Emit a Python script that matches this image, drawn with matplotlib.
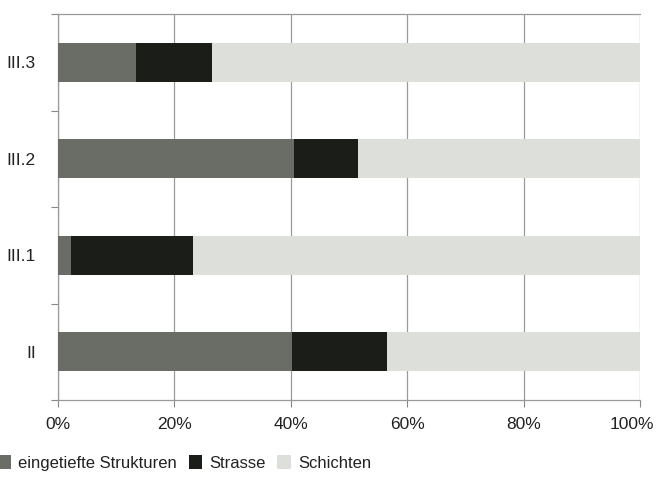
import matplotlib
matplotlib.use("Agg")
import matplotlib.pyplot as plt
from matplotlib.patches import Patch
from matplotlib import font_manager
import matplotlib.transforms as mtransforms

categories = ["II", "III.1", "III.2", "III.3"]
eingetiefte = [40.2, 2.2, 40.5, 13.4]
strasse = [16.3, 21.0, 11.0, 13.1]
schichten = [43.5, 76.8, 48.5, 73.5]
series_names = ["eingetiefte Strukturen", "Strasse", "Schichten"]
xtick_labels = ["0%", "20%", "40%", "60%", "80%", "100%"]

colors = ["#6a6d66", "#1b1d19", "#dde0da"]

names = {f.name for f in font_manager.fontManager.ttflist}
family = [f for f in ["Liberation Sans Narrow", "Liberation Sans", "DejaVu Sans"] if f in names]
plt.rcParams["font.family"] = family

fig = plt.figure(figsize=(6.56, 4.93), dpi=100)
ax = fig.add_axes([58 / 656, 1 - 400 / 493, 582 / 656, 386 / 493])

ypos = list(range(len(categories)))
left = [0.0] * len(categories)
for vals, col, name in zip([eingetiefte, strasse, schichten], colors, series_names):
    ax.barh(ypos, vals, left=left, height=0.4, color=col, label=name, zorder=3)
    left = [l + v for l, v in zip(left, vals)]

ax.set_xlim(0, 100)
ax.set_ylim(-0.5, 3.5)
ax.set_xticks([0, 20, 40, 60, 80, 100])
ax.set_xticklabels(xtick_labels)
ax.set_yticks(ypos)
ax.set_yticklabels(categories)
ax.set_yticks([-0.5, 0.5, 1.5, 2.5, 3.5], minor=True)
ax.tick_params(axis="y", which="major", length=0, pad=16, labelsize=12.5, colors="#222222")
ax.tick_params(axis="y", which="minor", length=5, color="#888888", width=0.8)
ax.tick_params(axis="x", which="major", length=5, color="#888888", width=0.8, pad=7,
               labelsize=12.5, labelcolor="#222222")

# keep the last tick label inside the figure
last = ax.get_xticklabels()[-1]
last.set_transform(last.get_transform() + mtransforms.ScaledTranslation(-8 / 100, 0, fig.dpi_scale_trans))

ax.grid(axis="x", color="#9a9a9a", linewidth=0.9, zorder=0)
for side in ["top", "bottom", "left"]:
    ax.spines[side].set_color("#9a9a9a")
    ax.spines[side].set_linewidth(0.9)
ax.spines["right"].set_visible(False)

handles = [Patch(facecolor=c, edgecolor="none") for c in colors]
fig.legend(handles, series_names, loc="lower left", bbox_to_anchor=(-0.027, 0.014),
           ncol=3, frameon=False, fontsize=12, handlelength=0.8, handleheight=0.9,
           handletextpad=0.45, columnspacing=0.7, labelcolor="#222222")

fig.savefig("out.png", dpi=100)
